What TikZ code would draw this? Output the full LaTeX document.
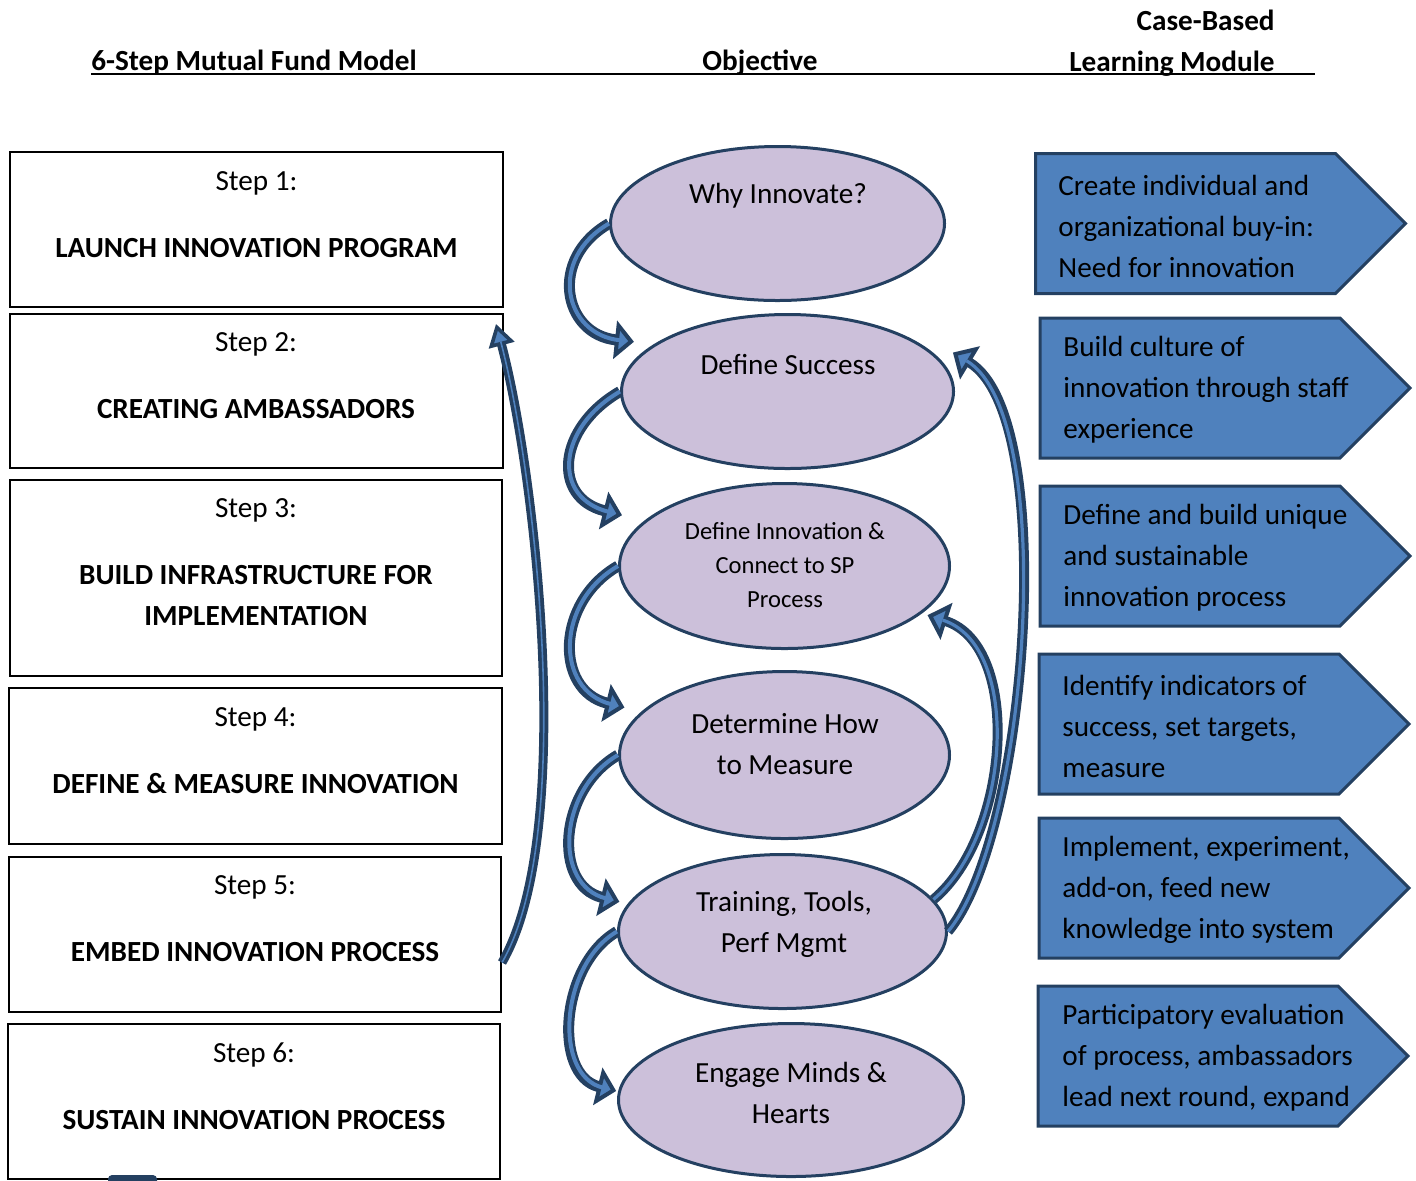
\documentclass[tikz,border=0pt]{standalone}
\usepackage{fontspec}
\setmainfont{Carlito}
\usetikzlibrary{shapes,arrows.meta,positioning}
\definecolor{bordercolor}{RGB}{36,64,97}
\definecolor{objectivecolor}{RGB}{204,192,218}
\definecolor{modulecolor}{RGB}{79,129,189}
\definecolor{arrowcolor}{RGB}{79,129,189}
\newcommand{\diagfont}{\fontsize{14.6pt}{20.5pt}\selectfont}
\newcommand{\objsmallfont}{\fontsize{12.3pt}{17.2pt}\selectfont}
\tikzset{
    stepbox/.style={
        rectangle,
        draw=black,
        line width=1pt,
        minimum width=246.5pt,
        inner sep=0pt
    },
    steptext/.style={align=center, font=\diagfont, inner sep=0pt},
    objective/.style={
        ellipse,
        draw=bordercolor,
        fill=objectivecolor,
        line width=1.5pt,
        inner sep=0pt
    },
    objtext/.style={align=center, font=\diagfont, inner sep=0pt},
    casemodule/.style={
        signal,
        signal to=east,
        signal pointer angle=90,
        draw=bordercolor,
        fill=modulecolor,
        line width=1.5pt,
        minimum width=185pt,
        minimum height=70pt,
        inner sep=0pt
    },
    casetext/.style={align=left, font=\diagfont, anchor=west, inner sep=0pt},
    header/.style={font=\diagfont\bfseries, inner sep=0pt},
    curvearrow/.style={
        draw=bordercolor, line width=5.5pt,
        -{Triangle[fill=arrowcolor, line width=2pt 0, width=19pt, length=9.5pt]},
        postaction={draw=arrowcolor, line width=2pt, arrows=-, shorten >=7pt}
    },
    returnarrow/.style={
        draw=bordercolor, line width=5pt,
        -{Triangle[fill=arrowcolor, line width=2pt 0, width=19pt, length=10pt]},
        postaction={draw=arrowcolor, line width=1.6pt, arrows=-, shorten >=8pt}
    },
    feedbackarrow/.style={
        draw=bordercolor, line width=4.5pt,
        -{Triangle[fill=arrowcolor, line width=1.8pt 0, width=13pt, length=11pt]},
        postaction={draw=arrowcolor, line width=0.8pt, arrows=-, shorten >=9pt}
    }
}

\begin{document}
\begin{tikzpicture}[x=0.5pt, y=-0.5pt]
    \useasboundingbox (0,0) rectangle (1416,1180);

    % Column headers
    \node[header, anchor=base west] (modelhead) at (91,70) {6-Step Mutual Fund Model};
    \node[header, anchor=base] (objhead) at (760,70) {Objective};
    \node[header, anchor=east, align=right] (casehead) at (1275,43) {Case-Based\\Learning Module};
    \draw[line width=1pt] (91,74) -- (1315,74);

    % Model steps
    \node[stepbox, minimum height=77.5pt] (launch) at (256.5,229.5) {};
    \node[stepbox, minimum height=77pt] (ambassadors) at (256.5,391) {};
    \node[stepbox, minimum width=246pt, minimum height=98pt] (infrastructure) at (256,578) {};
    \node[stepbox, minimum height=78pt] (definemeasure) at (255.5,766) {};
    \node[stepbox, minimum width=246pt, minimum height=77.5pt] (embed) at (255,934.5) {};
    \node[stepbox, minimum width=246pt, minimum height=77.5pt] (sustain) at (254,1101.5) {};

    \node[steptext] (launcht) at (256.5,214.5) {Step 1:\\[13pt]\textbf{LAUNCH INNOVATION PROGRAM}};
    \node[steptext] (ambassadorst) at (256,376) {Step 2:\\[13pt]\textbf{CREATING AMBASSADORS}};
    \node[steptext] (infrastructuret) at (256,562.5) {Step 3:\\[13pt]\textbf{BUILD INFRASTRUCTURE FOR}\\\textbf{IMPLEMENTATION}};
    \node[steptext] (definemeasuret) at (255.5,751) {Step 4:\\[13pt]\textbf{DEFINE \& MEASURE INNOVATION}};
    \node[steptext] (embedt) at (255,919) {Step 5:\\[13pt]\textbf{EMBED INNOVATION PROCESS}};
    \node[steptext] (sustaint) at (254,1086.5) {Step 6:\\[13pt]\textbf{SUSTAIN INNOVATION PROCESS}};

    % Objectives
    \node[objective, minimum width=167pt, minimum height=77pt] (why) at (777.5,223.5) {};
    \node[objective, minimum width=166pt, minimum height=77pt] (success) at (787.5,391.5) {};
    \node[objective, minimum width=165pt, minimum height=82.5pt] (definno) at (784.5,566) {};
    \node[objective, minimum width=165pt, minimum height=83.5pt] (measure) at (784.5,755) {};
    \node[objective, minimum width=164pt, minimum height=77pt] (training) at (782.5,931.5) {};
    \node[objective, minimum width=172.5pt, minimum height=76.5pt] (engage) at (791,1100) {};

    \node[objtext] (whyt) at (778,196) {Why Innovate?};
    \node[objtext] (successt) at (788,364) {Define Success};
    \node[objtext, font=\objsmallfont] (definnot) at (785,565) {Define Innovation \&\\Connect to SP\\Process};
    \node[objtext] (measuret) at (785,744.5) {Determine How\\to Measure};
    \node[objtext] (trainingt) at (784,924.5) {Training, Tools,\\Perf Mgmt};
    \node[objtext] (engaget) at (791,1092.5) {Engage Minds \&\\Hearts};

    % Case-based modules (signal centre sits on the body, the point sticks out east)
    \node[casemodule] (buyin) at (1185.5,223.5) {};
    \node[casemodule] (culture) at (1190,388) {};
    \node[casemodule] (process) at (1190,556) {};
    \node[casemodule] (indicators) at (1189,724) {};
    \node[casemodule] (implement) at (1189,888) {};
    \node[casemodule] (evaluation) at (1188,1056) {};

    \node[casetext] (buyint) at (1058,226) {Create individual and\\organizational buy-in:\\Need for innovation};
    \node[casetext] (culturet) at (1063,390) {Build culture of\\innovation through staff\\experience};
    \node[casetext] (processt) at (1063,558) {Define and build unique\\and sustainable\\innovation process};
    \node[casetext] (indicatorst) at (1062,726) {Identify indicators of\\success, set targets,\\measure};
    \node[casetext] (implementt) at (1062,890) {Implement, experiment,\\add-on, feed new\\knowledge into system};
    \node[casetext] (evaluationt) at (1062,1058) {Participatory evaluation\\of process, ambassadors\\lead next round, expand};

    % Arrows
    \draw[curvearrow] (why.west) to[out=210, in=174, looseness=1.5] ([xshift=-12pt]success.159);
    \draw[curvearrow] (success.west) to[out=210, in=166, looseness=1.5] ([xshift=-15pt]definno.159);
    \draw[curvearrow] (definno.west) to[out=210, in=166, looseness=1.3] ([xshift=-11pt]measure.161);
    \draw[curvearrow] (measure.west) to[out=210, in=166, looseness=1.2] ([xshift=-5pt]training.169);
    \draw[curvearrow] (training.west) to[out=210, in=166, looseness=1.05] ([xshift=-1pt]engage.177);
    \draw[returnarrow] (training.12) to[out=40, in=-18, looseness=0.9] ([xshift=4pt]definno.-20);
    \draw[returnarrow] (training.east) to[out=50, in=-31, looseness=0.55] ([xshift=10pt]success.15);
    \draw[feedbackarrow] ([yshift=-14pt]embed.east) to[out=60, in=-75, looseness=0.6] ([xshift=-4pt,yshift=-5.5pt]ambassadors.north east);

    \fill[bordercolor, rounded corners=2pt] (108,1175) rectangle (157,1190);
\end{tikzpicture}
\end{document}
